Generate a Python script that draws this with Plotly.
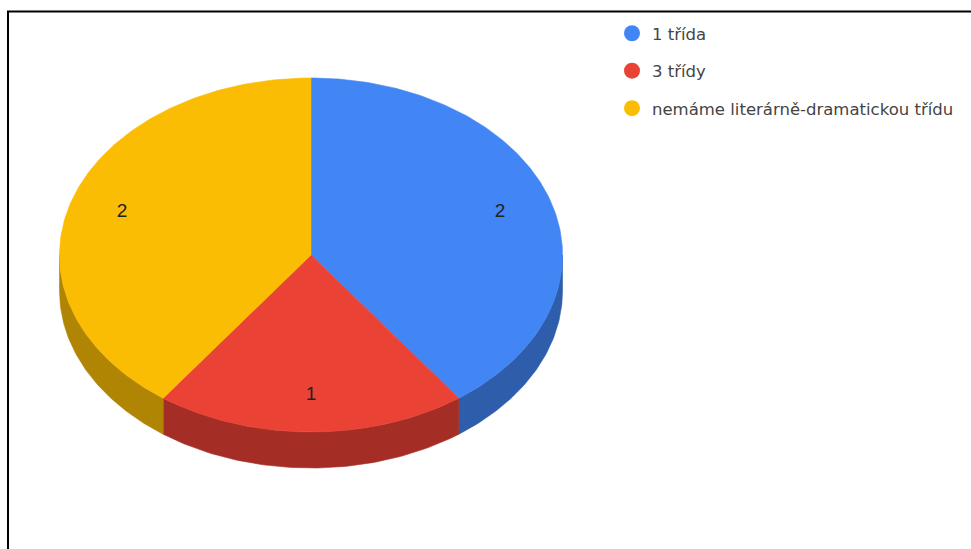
import numpy as np
import plotly.graph_objects as go

# ---- data ----
categories = ["1 třída", "3 třídy", "nemáme literárně-dramatickou třídu"]
values = [2, 1, 2]
top_colors = ["#4285F4", "#EA4335", "#FBBC04"]
side_colors = ["#2E5DAB", "#A42D25", "#B08503"]

# ---- geometry of the tilted (3D) pie, in pixel-like axis units ----
W, H = 971, 549
CX, CY = 311, 255
RX, RY = 251.5, 177
DEPTH = 36
LABEL_R = 0.79


def ellipse(theta_deg, dy=0.0):
    t = np.radians(theta_deg)
    return CX + RX * np.sin(t), CY - RY * np.cos(t) + dy


total = float(sum(values))
angles = [0.0]
for v in values:
    angles.append(angles[-1] + 360.0 * v / total)

fig = go.Figure()

# sides (only the front half, 90..270 deg measured clockwise from top)
for i, cat in enumerate(categories):
    a1, a2 = max(angles[i], 90.0), min(angles[i + 1], 270.0)
    if a2 <= a1:
        continue
    th = np.linspace(a1, a2, 80)
    xt, yt = ellipse(th)
    xb, yb = ellipse(th[::-1], DEPTH)
    xs = np.concatenate([xt, xb, xt[:1]])
    ys = np.concatenate([yt, yb, yt[:1]])
    fig.add_trace(go.Scatter(
        x=xs, y=ys, mode="lines", fill="toself", fillcolor=side_colors[i],
        line=dict(width=0.6, color=side_colors[i]), hoverinfo="skip", showlegend=False))

# top faces
for i, cat in enumerate(categories):
    th = np.linspace(angles[i], angles[i + 1], 160)
    xa, ya = ellipse(th)
    xs = np.concatenate([[CX], xa, [CX]])
    ys = np.concatenate([[CY], ya, [CY]])
    pct = 100 * values[i] / total
    fig.add_trace(go.Scatter(
        x=xs, y=ys, mode="lines", fill="toself", fillcolor=top_colors[i],
        line=dict(width=0.6, color=top_colors[i]),
        hoveron="fills", text=f"{cat}<br>{values[i]} ({pct:.0f}%)", hoverinfo="text",
        showlegend=False))

# slice labels
lx, ly = [], []
for i in range(len(values)):
    mid = (angles[i] + angles[i + 1]) / 2
    t = np.radians(mid)
    lx.append(CX + LABEL_R * RX * np.sin(t))
    ly.append(CY - LABEL_R * RY * np.cos(t))
fig.add_trace(go.Scatter(
    x=lx, y=ly, mode="text", text=[str(v) for v in values],
    textfont=dict(family="Liberation Sans, Arial", size=19, color="#222222"),
    hoverinfo="skip", showlegend=False))

# legend entries (circle markers)
for i, cat in enumerate(categories):
    fig.add_trace(go.Scatter(
        x=[None], y=[None], mode="markers", name=cat, legendgroup=f"g{i}",
        marker=dict(symbol="circle", size=16, color=top_colors[i])))

fig.update_layout(
    width=W, height=H,
    margin=dict(l=0, r=0, t=0, b=0),
    paper_bgcolor="white", plot_bgcolor="white",
    xaxis=dict(range=[0, W], visible=False, fixedrange=True),
    yaxis=dict(range=[H, 0], visible=False, fixedrange=True),
    showlegend=True,
    legend=dict(
        x=612 / W, y=1 - 16 / H, xanchor="left", yanchor="top",
        font=dict(family="DejaVu Sans", size=16.5, color="#444444"),
        tracegroupgap=13, bgcolor="rgba(0,0,0,0)", itemsizing="trace"),
    shapes=[dict(type="rect", xref="x", yref="y", x0=8, y0=11.5, x1=W + 10, y1=H + 10,
                 line=dict(color="black", width=2), fillcolor="rgba(0,0,0,0)", layer="above")],
    hovermode="closest",
)

fig.write_html(
    "out.html",
    config={"displayModeBar": False},
    post_script="document.body.style.margin='0';document.body.style.overflow='hidden';",
)
